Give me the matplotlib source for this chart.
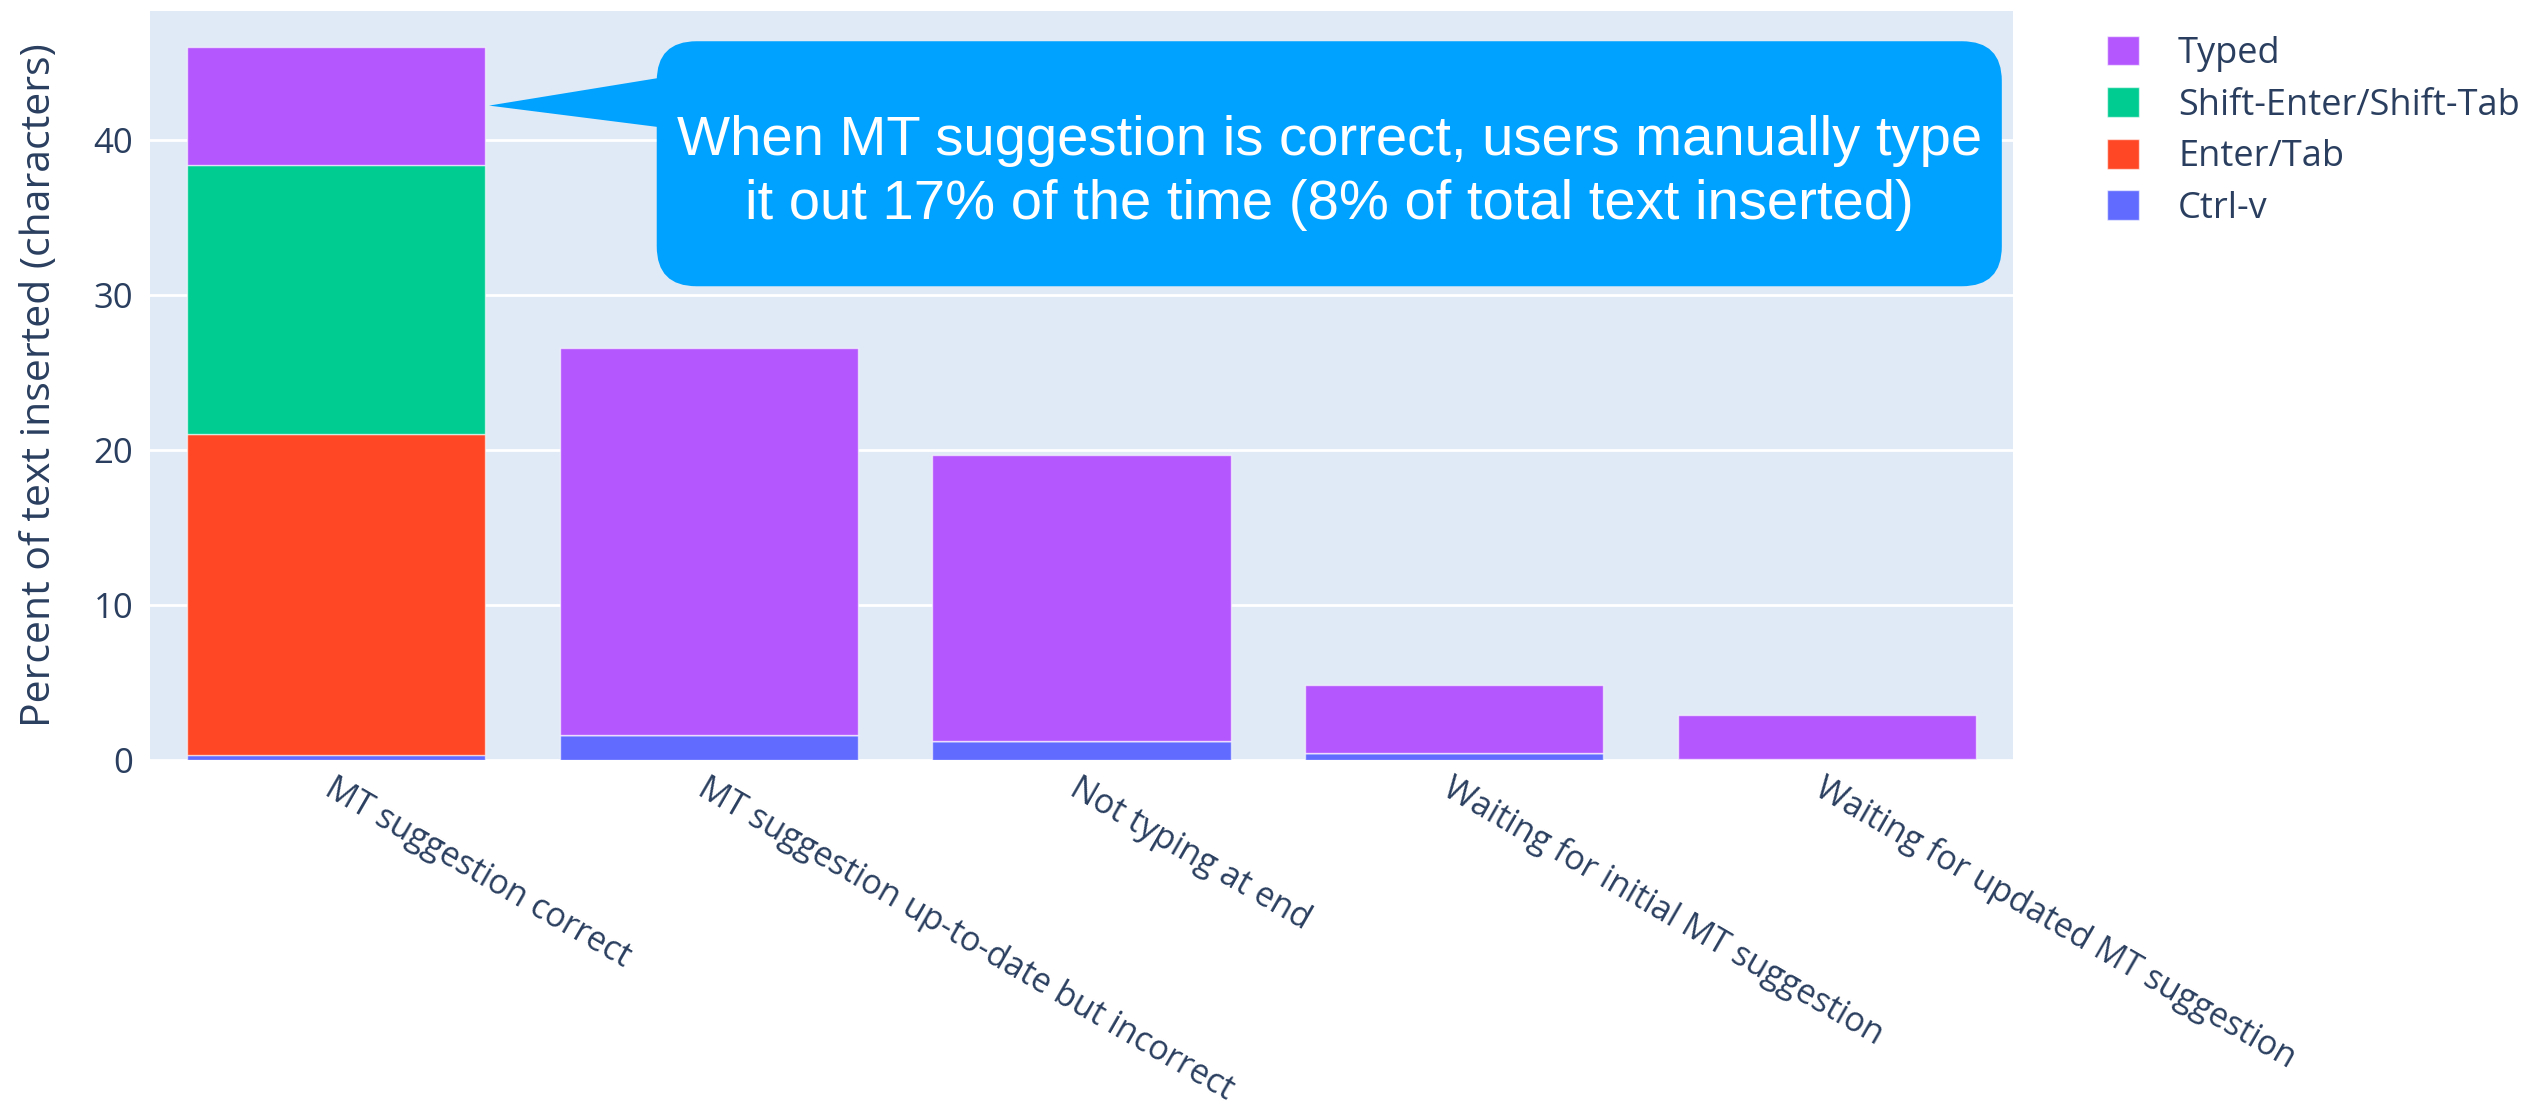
import numpy as np
import matplotlib.pyplot as plt
from matplotlib.patches import FancyBboxPatch, Polygon, Patch

# share of inserted text (characters) by insertion method, per typing state
categories = ['MT suggestion correct',
              'MT suggestion up-to-date but incorrect',
              'Not typing at end',
              'Waiting for initial MT suggestion',
              'Waiting for updated MT suggestion']
ctrl_v = [0.3, 1.6, 1.25, 0.45, 0.07]
enter_tab = [20.7, 0.0, 0.0, 0.0, 0.0]
shift_enter_tab = [17.4, 0.0, 0.0, 0.0, 0.0]
typed = [7.6, 25.0, 18.45, 4.4, 2.8]

series = [('Ctrl-v', ctrl_v, '#616bff'),
          ('Enter/Tab', enter_tab, '#ff4725'),
          ('Shift-Enter/Shift-Tab', shift_enter_tab, '#00cc92'),
          ('Typed', typed, '#b557ff')]

note = ('When MT suggestion is correct, users manually type\n'
        'it out 17% of the time (8% of total text inserted)')

txt_col = '#2a3f5f'
plt.rcParams['font.family'] = ['Open Sans', 'DejaVu Sans']

W, H = 2531, 1111
fig = plt.figure(figsize=(W / 100, H / 100), dpi=100)
ax = fig.add_axes([150 / W, (H - 760) / H, (2013 - 150) / W, (760 - 11) / H])
ax.set_facecolor('#e0eaf6')

x = np.arange(len(categories))
bottom = np.zeros(len(categories))
for name, vals, col in series:
    vals = np.array(vals)
    ax.bar(x, vals, width=0.8, bottom=bottom, color=col, label=name,
           edgecolor=(1, 1, 1, 0.6), linewidth=1.0, zorder=3)
    bottom += vals

total = bottom
ax.set_xlim(-0.5, len(categories) - 0.5)
ax.set_ylim(0, total.max() * 1.05)
ax.set_yticks([0, 10, 20, 30, 40])
ax.grid(axis='y', color='white', linewidth=2, zorder=0)
ax.set_axisbelow(True)
for s in ax.spines.values():
    s.set_visible(False)
ax.tick_params(axis='y', length=0, labelsize=25, labelcolor=txt_col, pad=12)
ax.set_xticks(x)
ax.set_xticklabels(categories, rotation=-30, ha='left', va='top',
                   rotation_mode='anchor')
ax.tick_params(axis='x', length=0, labelsize=24.3, labelcolor=txt_col, pad=8)
ax.set_ylabel('Percent of text inserted (characters)', fontsize=29.5,
              color=txt_col, labelpad=24)

# callout pointing at the typed share of the first bar
bx0, bx1, by0, by1 = 0.86, 4.47, 30.55, 46.35
box = FancyBboxPatch((bx0, by0), bx1 - bx0, by1 - by0,
                     boxstyle='round,pad=0,rounding_size=0.107',
                     mutation_aspect=24.0, facecolor='#00a2ff',
                     edgecolor='none', zorder=5)
ax.add_patch(box)
tip_y = total[0] - typed[0] / 2
ax.add_patch(Polygon([[0.41, tip_y], [bx0 + 0.01, 44.0], [bx0 + 0.01, 40.8]],
                     closed=True, facecolor='#00a2ff', edgecolor='none',
                     zorder=5))
ax.text((bx0 + bx1) / 2, (by0 + by1) / 2 - 0.6, note, ha='center',
        va='center', color='white', fontsize=40.5, family=['Liberation Sans'],
        linespacing=1.32, zorder=6)

handles = [Patch(facecolor=c, edgecolor=(1, 1, 1, 0.6), label=n)
           for n, _, c in series[::-1]]
leg = fig.legend(handles=handles, loc='upper left',
                 bbox_to_anchor=(2074 / W, 1 - 3 / H), frameon=False,
                 fontsize=26, handlelength=0.9, handleheight=0.9,
                 handletextpad=1.08, labelspacing=0.42)
for t in leg.get_texts():
    t.set_color(txt_col)

fig.savefig('out.png', dpi=100, facecolor='white')
